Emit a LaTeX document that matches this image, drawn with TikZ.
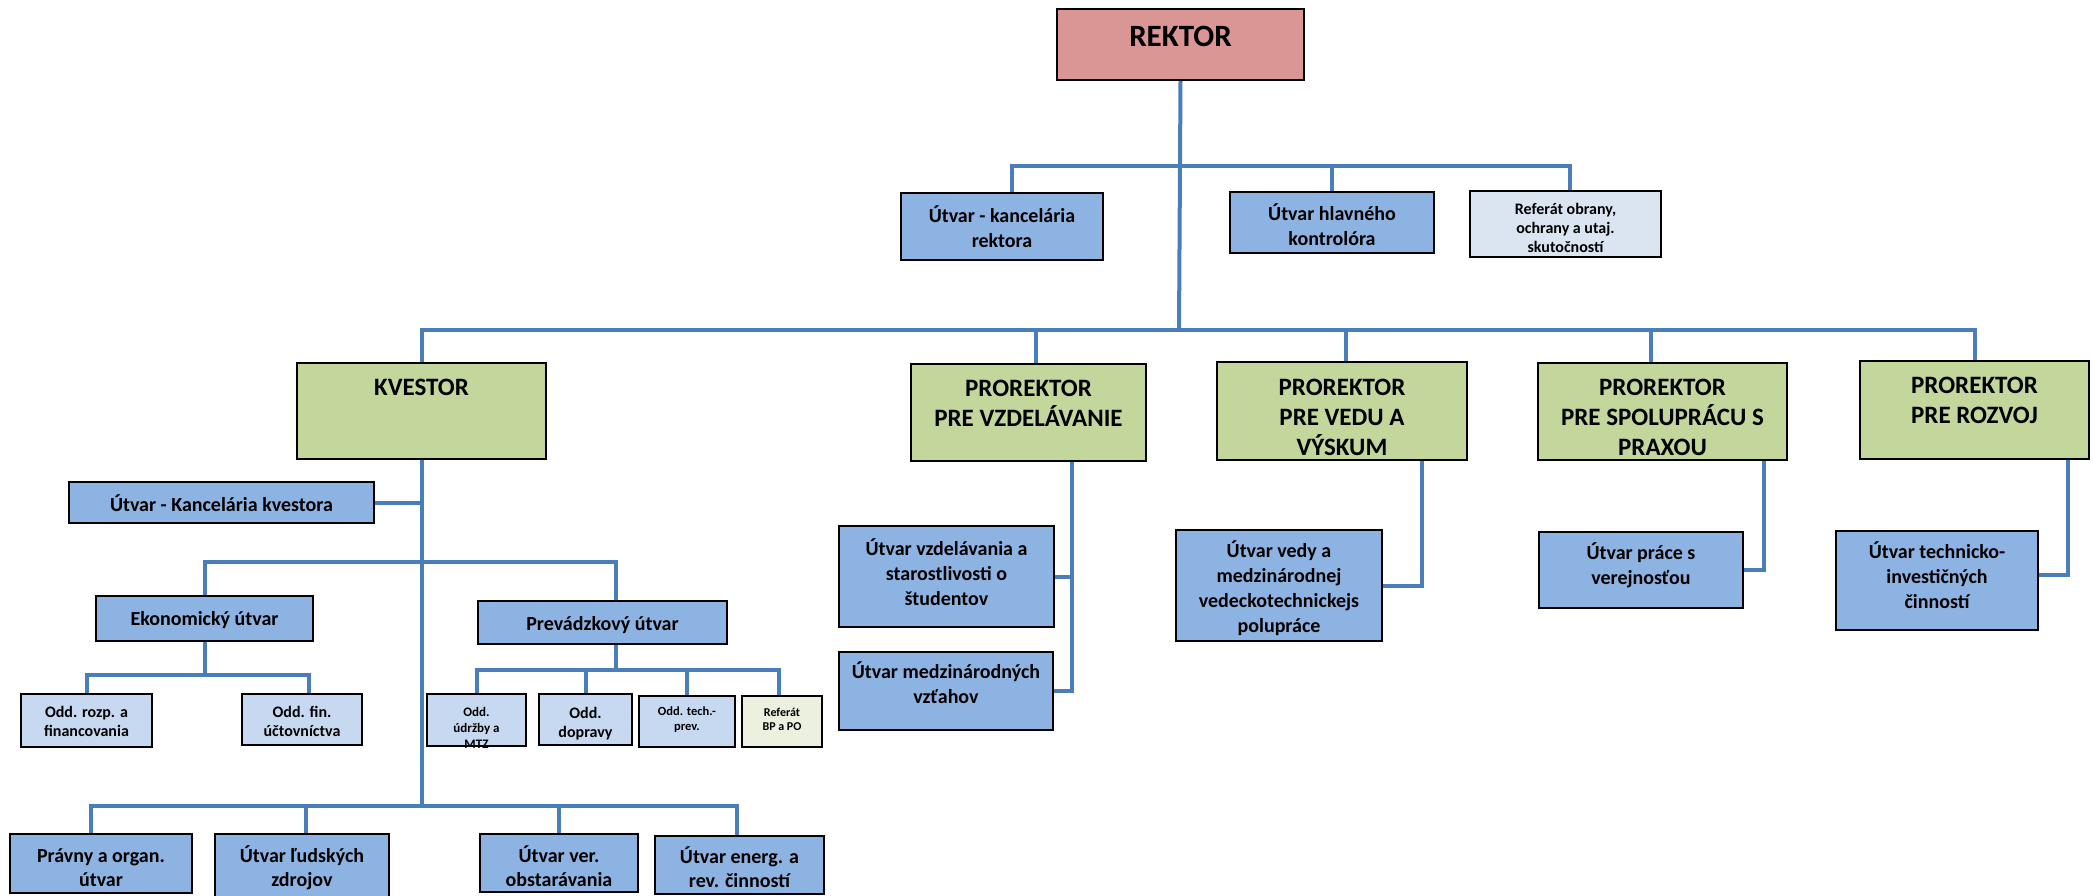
\documentclass[tikz,border=0pt]{standalone}
\usepackage{fontspec}
\setmainfont{Carlito}
\usetikzlibrary{backgrounds}
\definecolor{rk}{HTML}{D99694}
\definecolor{gr}{HTML}{C3D69B}
\definecolor{bl}{HTML}{8DB3E2}
\definecolor{lb}{HTML}{C6D9F1}
\definecolor{vl}{HTML}{DBE5F1}
\definecolor{cr}{HTML}{EBF1DE}
\definecolor{ln}{HTML}{4A7EBB}
\newcommand\fsz[2]{\fontsize{#1pt}{#2pt}\selectfont\bfseries}
\newcommand\tb[6]{\parbox[c][#2pt][t]{#1pt}{\fsz{#3}{#4}\centering\vspace*{#5pt}\strut #6\strut\par}}
\tikzset{
  orgbox/.style={draw=black, line width=1.6pt, inner sep=0pt, outer sep=0pt, anchor=north west},
  con/.style={draw=ln, line width=4pt}
}
\begin{document}
\begin{tikzpicture}[x=1pt,y=-1pt]
\useasboundingbox (0,0) rectangle (2093,895);
% level 0
\node[orgbox, fill=rk, line width=2.6pt] (rektor) at (1057,9) {\tb{247}{71}{31}{36}{12.5}{REKTOR}};
% staff of rektor
\node[orgbox, fill=bl] (kr) at (901,193) {\tb{202}{67}{20}{25}{12}{Útvar - kancelária\\rektora}};
\node[orgbox, fill=bl] (hk) at (1230,192) {\tb{204}{61}{20}{25}{11}{Útvar hlavného\\kontrolóra}};
\node[orgbox, fill=vl] (ro) at (1470,191) {\tb{191}{66}{16}{19}{10.5}{Referát obrany,\\ochrany a utaj.\\skutočností}};
% level 1
\node[orgbox, fill=gr] (kv) at (297,363) {\tb{249}{96}{25}{30}{11.5}{KVESTOR}};
\node[orgbox, fill=gr] (pvzd) at (911,364) {\tb{235}{97}{25}{30}{11}{PROREKTOR\\PRE VZDELÁVANIE}};
\node[orgbox, fill=gr] (pved) at (1217,362) {\tb{250}{98}{25}{30}{12}{PROREKTOR\\PRE VEDU A\\VÝSKUM}};
\node[orgbox, fill=gr] (pspo) at (1538,363) {\tb{249}{97}{25}{30}{11}{PROREKTOR\\PRE SPOLUPRÁCU S\\PRAXOU}};
\node[orgbox, fill=gr] (proz) at (1860,361) {\tb{229}{98}{25}{30}{11}{PROREKTOR\\PRE ROZVOJ}};
% kvestor branch
\node[orgbox, fill=bl] (kk) at (69,482) {\tb{305}{41}{20}{25}{11.5}{Útvar - Kancelária kvestora}};
\node[orgbox, fill=bl] (eko) at (96,596) {\tb{217}{45}{20}{25}{11.5}{Ekonomický útvar}};
\node[orgbox, fill=bl] (prev) at (478,601) {\tb{249}{43}{20}{25}{11.5}{Prevádzkový útvar}};
\node[orgbox, fill=lb] (or) at (21,694) {\tb{131}{53}{16}{19}{9.7}{Odd. rozp. a\\financovania}};
\node[orgbox, fill=lb] (of) at (242,694) {\tb{120}{51}{16}{19}{10}{Odd. fin.\\účtovníctva}};
\node[orgbox, fill=lb] (ud) at (427,694) {\tb{99}{52}{13}{16}{10.8}{Odd.\\údržby a\\MTZ}};
\node[orgbox, fill=lb] (dop) at (539,694) {\tb{93}{51}{16}{19}{10.7}{Odd.\\dopravy}};
\node[orgbox, fill=lb] (tp) at (639,696) {\tb{96}{51}{12.5}{14.5}{9.5}{Odd. tech.-\\prev.}};
\node[orgbox, fill=cr] (bp) at (742,696) {\tb{80}{51}{12}{14}{10.2}{Referát\\BP a PO}};
\node[orgbox, fill=bl] (pra) at (10,834) {\tb{182}{59}{20}{24.5}{11}{Právny a organ.\\útvar}};
\node[orgbox, fill=bl] (lz) at (215,834) {\tb{174}{64}{20}{24.5}{11}{Útvar ľudských\\zdrojov}};
\node[orgbox, fill=bl] (vo) at (480,834) {\tb{158}{58}{20}{24.5}{11}{Útvar ver.\\obstarávania}};
\node[orgbox, fill=bl] (ee) at (655,836) {\tb{169}{58}{20}{24.5}{10}{Útvar energ. a\\rev. činností}};
% prorektor branches
\node[orgbox, fill=bl] (uv) at (839,526) {\tb{215}{101}{20}{25}{11.5}{Útvar vzdelávania a\\starostlivosti o\\študentov}};
\node[orgbox, fill=bl] (um) at (839,652) {\tb{214}{78}{20}{25}{9}{Útvar medzinárodných\\vzťahov}};
\node[orgbox, fill=bl] (vv) at (1176,530) {\tb{206}{111}{20}{25}{9.5}{Útvar vedy a\\medzinárodnej\\vedeckotechnickejs\\polupráce}};
\node[orgbox, fill=bl] (pz) at (1539,532) {\tb{204}{76}{20}{25}{9.5}{Útvar práce s\\verejnosťou}};
\node[orgbox, fill=bl] (ti) at (1836,531) {\tb{202}{99}{20}{25}{9.5}{Útvar technicko-\\investičných\\činností}};
% junction coordinates
\coordinate (ub) at (1179,166);
\coordinate (mb) at (1179,330);
\coordinate (kb) at (422,806);
\coordinate (eb) at (422,562);
\coordinate (ekb) at (204,675);
\coordinate (pb) at (615,670);
\coordinate (pvs) at ([xshift=43.5pt]pvzd.south);
\begin{scope}[on background layer]
\draw[con] (rektor.south) -- (mb);
\draw[con] ([xshift=10pt]kr.north) |- ([xshift=4pt]ro.north |- ub) -- ([xshift=4pt]ro.north);
\draw[con] (hk.north) -- (hk.north |- ub);
\draw[con] (kv.north) |- (proz.north |- mb) -- (proz.north);
\draw[con] ([xshift=7.5pt]pvzd.north) -- ([xshift=7.5pt]pvzd.north |- mb);
\draw[con] ([xshift=4pt]pved.north) -- ([xshift=4pt]pved.north |- mb);
\draw[con] ([xshift=-11.5pt]pspo.north) -- ([xshift=-11.5pt]pspo.north |- mb);
% kvestor
\draw[con] (kv.south) -- (kv.south |- kb);
\draw[con] (kk.east) -- ([xshift=2pt]kk.east -| kv.south);
\draw[con] (eko.north) |- ([xshift=13.5pt]prev.north |- eb) -- ([xshift=13.5pt]prev.north);
\draw[con] ([xshift=-10pt]pra.north) |- ([xshift=-2.5pt]ee.north |- kb) -- ([xshift=-2.5pt]ee.north);
\draw[con] ([xshift=4pt]lz.north) -- ([xshift=4pt]lz.north |- kb);
\draw[con] (vo.north) -- (vo.north |- kb);
\draw[con] (eko.south) -- (eko.south |- ekb);
\draw[con] (or.north) |- ([xshift=7pt]of.north |- ekb) -- ([xshift=7pt]of.north);
\draw[con] ([xshift=13pt]prev.south) -- ([xshift=13pt]prev.south |- pb);
\draw[con] (ud.north) |- ([xshift=-3pt]bp.north |- pb) -- ([xshift=-3pt]bp.north);
\draw[con] (dop.north) -- (dop.north |- pb);
\draw[con] (tp.north) -- (tp.north |- pb);
% prorektors
\draw[con] (pvs) |- (um.east);
\draw[con] (uv.east) -- (uv.east -| pvs);
\draw[con] ([xshift=80pt]pved.south) |- (vv.east);
\draw[con] ([xshift=101.5pt]pspo.south) |- (pz.east);
\draw[con] ([xshift=93.5pt]proz.south) |- ([yshift=6pt]ti.east);
\end{scope}
\end{tikzpicture}
\end{document}
